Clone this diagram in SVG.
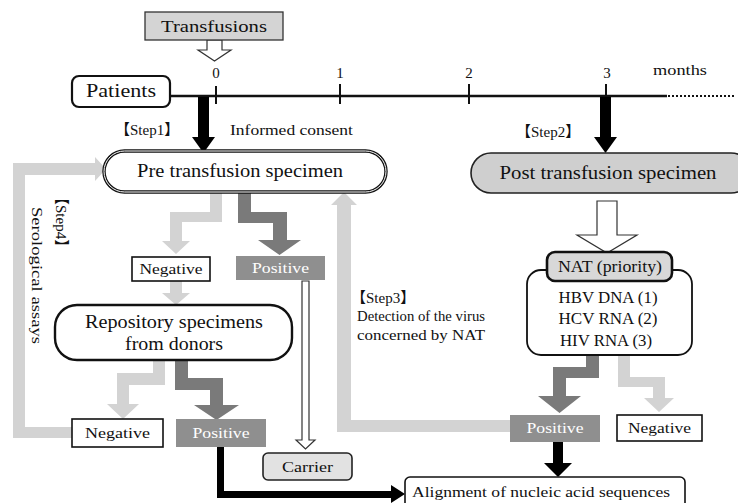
<svg xmlns="http://www.w3.org/2000/svg" width="738" height="503" viewBox="0 0 738 503">
<style>
.t{font-family:"Liberation Serif","Noto Sans CJK JP",serif;fill:#111}
.st{font-family:"Liberation Serif","Noto Sans CJK JP",serif;fill:#111;font-size:15px}
.w{fill:#fff}
.lg{fill:#d3d3d3}
.dg{fill:#7a7a7a}
.bk{fill:#000}
.box{fill:#fff;stroke:#111;stroke-width:1.6}
.pos{fill:#8f8f8f}
</style>
<rect width="738" height="503" fill="#fff"/>
<g id="connectors">
  <line x1="170" y1="96" x2="667" y2="96" stroke="#111" stroke-width="2.5"/>
  <line x1="668" y1="96" x2="734" y2="96" stroke="#111" stroke-width="2" stroke-dasharray="2 2"/>
  <g stroke="#111" stroke-width="2">
    <line x1="216" y1="86" x2="216" y2="104"/>
    <line x1="340" y1="84" x2="340" y2="104"/>
    <line x1="469" y1="84" x2="469" y2="104"/>
    <line x1="606" y1="84" x2="606" y2="104"/>
  </g>
  <path d="M207,40 H222 V50 H231 L214.5,61 L198,50 H207 Z" fill="#fff" stroke="#333" stroke-width="1.2"/>
  <path class="bk" d="M198,97 H209 V137 H215 L203.5,153 L192,137 H198 Z"/>
  <path class="bk" d="M600,97 H611 V137 H617 L605.5,153 L594,137 H600 Z"/>
  <path d="M597,201 H617 V235 H637 L607,253 L577,235 H597 Z" fill="#fff" stroke="#333" stroke-width="1.2"/>
  <path class="lg" d="M210,192 H222 V222 H182 V241 H190 L176,254 L162,241 H170 V212 H210 Z"/>
  <path class="dg" d="M238,192 H251 V212 H287 V240 H301 L279.5,255 L258,240 H273 V223 H238 Z"/>
  <path d="M302,281 H309 V440 H315 L305.5,449 L296,440 H302 Z" fill="#fff" stroke="#333" stroke-width="1.2"/>
  <path class="lg" d="M170,281 H182 V293 H190 L176,305 L162,293 H170 Z"/>
  <path class="lg" d="M153,360 H165 V385 H129 V404 H139 L123,419 L107,404 H117 V373 H153 Z"/>
  <path class="dg" d="M175,360 H188 V378 H223 V405 H239 L216.5,420 L194,405 H210 V390 H175 Z"/>
  <path class="bk" d="M217,447 H224 V491 H391 V485 L405,494 L391,503 V498 H217 Z"/>
  <path class="lg" d="M72,427 H25 V175 H95 V181 L106,169 L95,157 V163 H13 V438 H72 Z"/>
  <path class="lg" d="M510,420 H351 V205 H357 L344,192 L331,205 H337 V432 H510 Z"/>
  <path class="dg" d="M586,355 H599 V378 H566 V396 H581 L559.5,413 L538,396 H553 V367 H586 Z"/>
  <path class="lg" d="M618,355 H630 V377 H665 V398 H674 L659,412 L644,398 H653 V387 H618 Z"/>
  <path class="bk" d="M553,442 H563 V463 H572 L558,477 L544,463 H553 Z"/>
</g>
<g id="transfusions">
  <rect x="145" y="12" width="138" height="28" fill="#d4d4d4" stroke="#333" stroke-width="1.3"/>
  <text class="t" x="214" y="32" font-size="17" text-anchor="middle" textLength="106" lengthAdjust="spacingAndGlyphs">Transfusions</text>
</g>
<g id="timeline-labels">
  <text class="t" x="216" y="78" font-size="15" text-anchor="middle">0</text>
  <text class="t" x="340" y="78" font-size="15" text-anchor="middle">1</text>
  <text class="t" x="469" y="78" font-size="15" text-anchor="middle">2</text>
  <text class="t" x="607" y="78" font-size="15" text-anchor="middle">3</text>
  <text class="t" x="653" y="75" font-size="15" textLength="54" lengthAdjust="spacingAndGlyphs">months</text>
</g>
<g id="patients">
  <rect x="72" y="76" width="98" height="31" rx="7" fill="#fff" stroke="#111" stroke-width="2.2"/>
  <text class="t" x="121" y="97" font-size="18" text-anchor="middle" textLength="70" lengthAdjust="spacingAndGlyphs">Patients</text>
</g>
<g id="step1">
  <text class="st" x="115" y="135">【Step1】</text>
  <text class="t" x="230" y="135" font-size="15" textLength="123" lengthAdjust="spacingAndGlyphs">Informed consent</text>
</g>
<g id="step2">
  <text class="st" x="516" y="137">【Step2】</text>
</g>
<g id="pre-specimen">
  <rect x="104" y="151" width="282" height="41" rx="20.5" fill="#fff" stroke="#111" stroke-width="3.4"/>
  <rect x="104" y="151" width="282" height="41" rx="20.5" fill="none" stroke="#fff" stroke-width="1"/>
  <text class="t" x="240" y="177" font-size="18.5" text-anchor="middle" textLength="206" lengthAdjust="spacingAndGlyphs">Pre transfusion specimen</text>
</g>
<g id="post-specimen">
  <rect x="471" y="153" width="280" height="40" rx="20" fill="#cfcfcf" stroke="#222" stroke-width="1.6"/>
  <text class="t" x="608" y="179" font-size="18.5" text-anchor="middle" textLength="217" lengthAdjust="spacingAndGlyphs">Post transfusion specimen</text>
</g>
<g id="negative-1">
  <rect class="box" x="132" y="257" width="78" height="24"/>
  <text class="t" x="171" y="274" font-size="15.5" text-anchor="middle" textLength="63" lengthAdjust="spacingAndGlyphs">Negative</text>
</g>
<g id="positive-1">
  <rect class="pos" x="236" y="256" width="89" height="24"/>
  <text class="t w" x="280.5" y="273" font-size="15.5" text-anchor="middle" textLength="57" lengthAdjust="spacingAndGlyphs">Positive</text>
</g>
<g id="repository">
  <rect x="55" y="305" width="237" height="55" rx="22" fill="#fff" stroke="#111" stroke-width="2.4"/>
  <text class="t" x="174" y="328" font-size="18" text-anchor="middle" textLength="178" lengthAdjust="spacingAndGlyphs">Repository specimens</text>
  <text class="t" x="174" y="350" font-size="18" text-anchor="middle" textLength="98" lengthAdjust="spacingAndGlyphs">from donors</text>
</g>
<g id="step4">
  <text class="st" transform="translate(56,190) rotate(90)">【Step4】</text>
  <text class="t" transform="translate(32,207) rotate(90)" font-size="15" textLength="137" lengthAdjust="spacingAndGlyphs">Serological assays</text>
</g>
<g id="negative-2">
  <rect class="box" x="72" y="419" width="91" height="28"/>
  <text class="t" x="117.5" y="438" font-size="15.5" text-anchor="middle" textLength="65" lengthAdjust="spacingAndGlyphs">Negative</text>
</g>
<g id="positive-2">
  <rect class="pos" x="176" y="419" width="90" height="28"/>
  <text class="t w" x="221" y="438" font-size="15.5" text-anchor="middle" textLength="57" lengthAdjust="spacingAndGlyphs">Positive</text>
</g>
<g id="carrier">
  <rect x="263" y="453" width="89" height="27" rx="5" fill="#e2e2e2" stroke="#222" stroke-width="1.6"/>
  <text class="t" x="307.5" y="472" font-size="15.5" text-anchor="middle" textLength="51" lengthAdjust="spacingAndGlyphs">Carrier</text>
</g>
<g id="step3">
  <text class="st" x="351" y="303">【Step3】</text>
  <text class="t" x="357" y="321" font-size="15" textLength="128" lengthAdjust="spacingAndGlyphs">Detection of the virus</text>
  <text class="t" x="357" y="340" font-size="15" textLength="128" lengthAdjust="spacingAndGlyphs">concerned by NAT</text>
</g>
<g id="nat">
  <rect x="527" y="270" width="165" height="85" rx="14" fill="#fff" stroke="#111" stroke-width="1.8"/>
  <rect x="547" y="252" width="125" height="29" rx="8" fill="#d8d8d8" stroke="#111" stroke-width="2.6"/>
  <text class="t" x="610" y="272" font-size="16" text-anchor="middle" textLength="104" lengthAdjust="spacingAndGlyphs">NAT (priority)</text>
  <text class="t" x="608" y="303" font-size="16" text-anchor="middle" textLength="99" lengthAdjust="spacingAndGlyphs">HBV DNA (1)</text>
  <text class="t" x="608" y="324" font-size="16" text-anchor="middle" textLength="99" lengthAdjust="spacingAndGlyphs">HCV RNA (2)</text>
  <text class="t" x="606" y="346" font-size="16" text-anchor="middle" textLength="92" lengthAdjust="spacingAndGlyphs">HIV RNA (3)</text>
</g>
<g id="positive-3">
  <rect class="pos" x="510" y="415" width="90" height="27"/>
  <text class="t w" x="555" y="433" font-size="15.5" text-anchor="middle" textLength="57" lengthAdjust="spacingAndGlyphs">Positive</text>
</g>
<g id="negative-3">
  <rect class="box" x="617" y="415" width="85" height="26"/>
  <text class="t" x="659.5" y="433" font-size="15.5" text-anchor="middle" textLength="63" lengthAdjust="spacingAndGlyphs">Negative</text>
</g>
<g id="alignment">
  <rect x="405" y="477" width="280" height="40" rx="5" fill="#fff" stroke="#111" stroke-width="1.6"/>
  <text class="t" x="412" y="497" font-size="15" textLength="258" lengthAdjust="spacingAndGlyphs">Alignment of nucleic acid sequences</text>
</g>
</svg>
